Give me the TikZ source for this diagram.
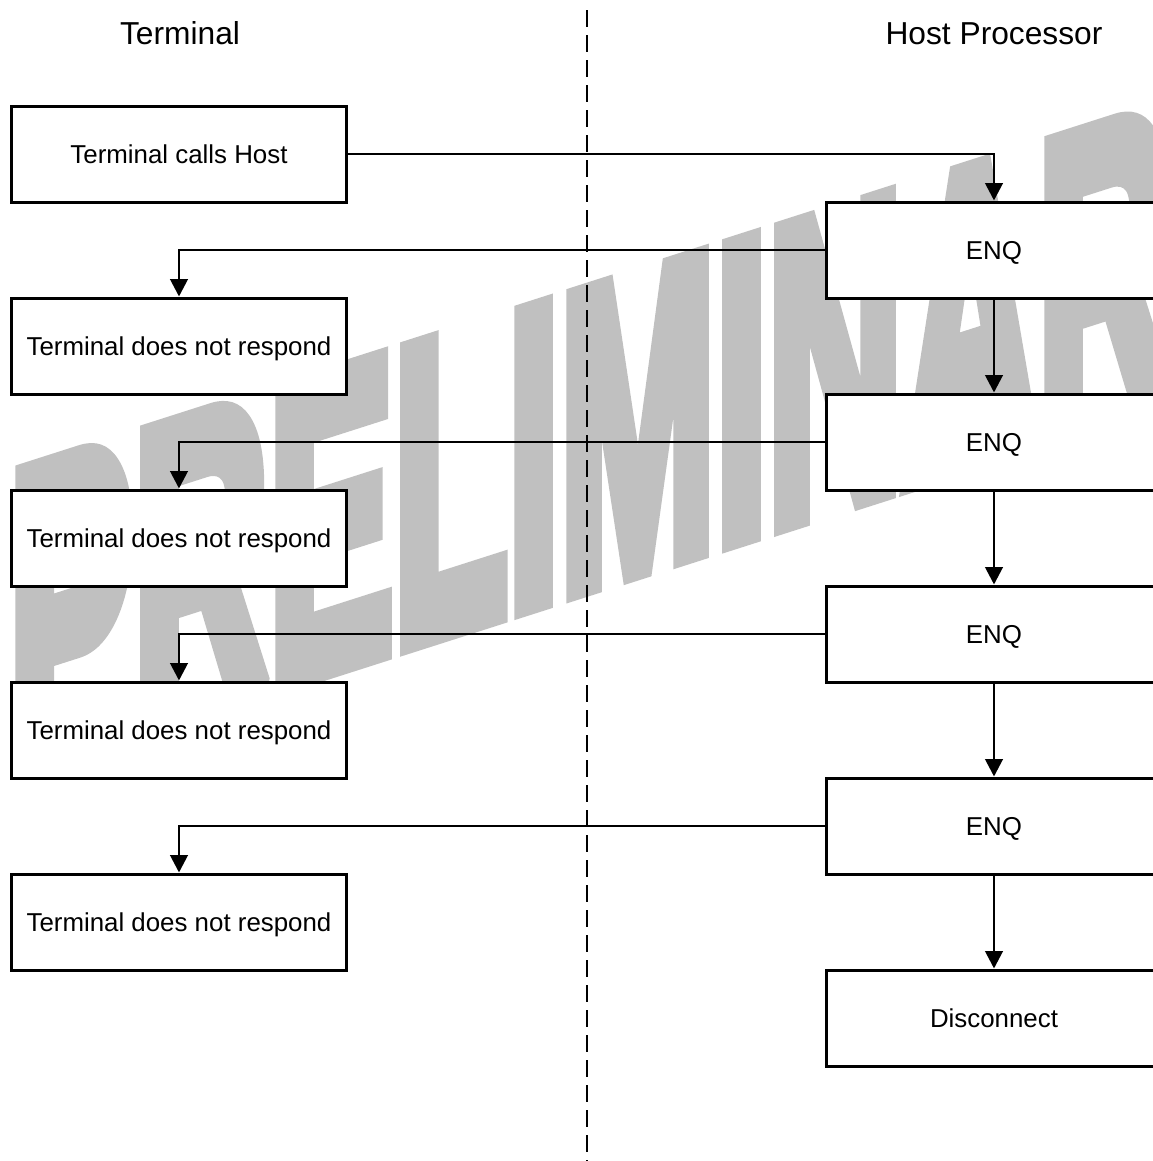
\documentclass[tikz,border=0pt]{standalone}
\usepackage{fontspec}
\setmainfont{Liberation Sans}
\newfontfamily\wmfont[FakeBold=6.2]{Liberation Sans Bold}
\usetikzlibrary{arrows.meta}
\definecolor{wmgray}{RGB}{192,192,192}
\begin{document}
\begin{tikzpicture}[x=0.75pt,y=-0.75pt,
  box/.style={draw,line width=2.25pt,fill=white,minimum width=251pt,minimum height=72pt,
    inner sep=0pt,font=\fontsize{19.4}{23}\selectfont,text height=13.9pt,text depth=0pt},
  hdr/.style={inner sep=0pt,font=\fontsize{23.8}{28}\selectfont,text height=17pt,text depth=0pt},
  conn/.style={line width=2.1pt,-{Triangle[length=13pt,width=13pt]}},
  divider/.style={line width=1.5pt,dash pattern=on 12.75pt off 6pt},
  wmark/.style={inner sep=0pt,anchor=base west,transform shape,cm={0.4465,0.1429,0,1,(0,0)},
    text=wmgray,font=\fontsize{314.25}{314.25}\wmfont}]
\useasboundingbox (0,0) rectangle (1153,1161);
\clip (0,0) rectangle (1153,1161);
% watermark
\begin{scope}[shift={(8.6,769)},line join=miter,miter limit=2]
  \node[wmark] (wm) at (0,0) {PRELIMINARY};
\end{scope}
% divider
\coordinate (dtop) at (586.5,10);
\coordinate (dbot) at (586.5,1161);
\draw[divider] (dtop) -- (dbot);
% headers
\node[hdr] (hterm) at (180,33) {Terminal};
\node[hdr] (hhost) at (994,33) {Host Processor};
% left column
\node[box] (tch) at (179,154) {Terminal calls Host};
\node[box] (r1) at (179,346) {Terminal does not respond};
\node[box] (r2) at (179,538) {Terminal does not respond};
\node[box] (r3) at (179,730) {Terminal does not respond};
\node[box] (r4) at (179,922) {Terminal does not respond};
% right column
\node[box] (e1) at (994,250) {ENQ};
\node[box] (e2) at (994,442) {ENQ};
\node[box] (e3) at (994,634) {ENQ};
\node[box] (e4) at (994,826) {ENQ};
\node[box] (disc) at (994,1018) {Disconnect};
% connectors
\draw[conn] (tch.east) -| (e1.north);
\draw[conn] (e1.west) -| (r1.north);
\draw[conn] (e2.west) -| (r2.north);
\draw[conn] (e3.west) -| (r3.north);
\draw[conn] (e4.west) -| (r4.north);
\draw[conn] (e1.south) -- (e2.north);
\draw[conn] (e2.south) -- (e3.north);
\draw[conn] (e3.south) -- (e4.north);
\draw[conn] (e4.south) -- (disc.north);
\end{tikzpicture}
\end{document}
